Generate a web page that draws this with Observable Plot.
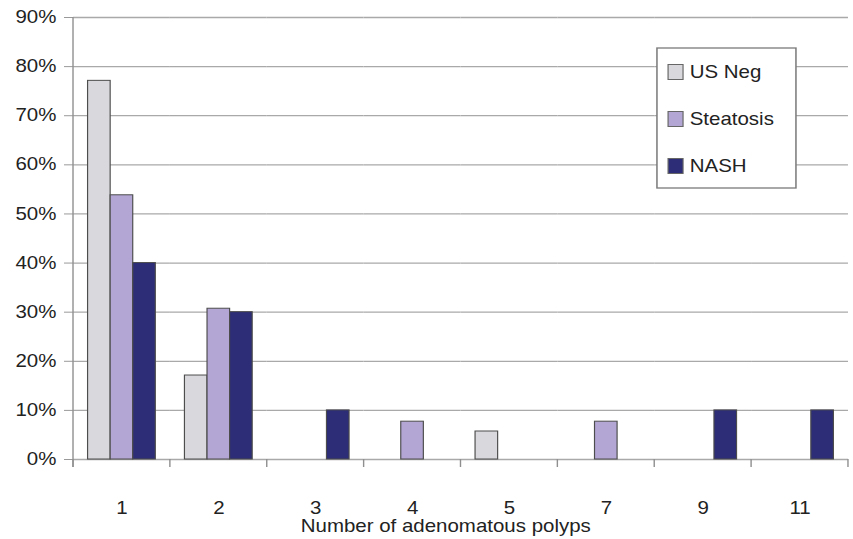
<!DOCTYPE html>
<html>
<head>
<meta charset="utf-8">
<script src="https://cdn.jsdelivr.net/npm/d3@7"></script>
<script src="https://cdn.jsdelivr.net/npm/@observablehq/plot@0.6"></script>
<style>
  body { margin: 0; background: #fff; }
  #chart svg { display: block; }
</style>
</head>
<body>
<div id="chart"></div>
<script>
// ---- data ----
const categories = ["1", "2", "3", "4", "5", "7", "9", "11"];
const series = ["US Neg", "Steatosis", "NASH"];
const usNeg     = [0.771, 0.171, 0,    0,     0.057, 0,     0,    0];
const steatosis = [0.538, 0.307, 0,    0.077, 0,     0.077, 0,    0];
const nash      = [0.40,  0.30,  0.10, 0,     0,     0,     0.10, 0.10];
const colors = ["#d9d9dd", "#b3a6d4", "#2c2c77"];
const yTicks = [0, 0.1, 0.2, 0.3, 0.4, 0.5, 0.6, 0.7, 0.8, 0.9];
const xTitle = "Number of adenomatous polyps";

const rows = [];
[usNeg, steatosis, nash].forEach((vals, si) =>
  vals.forEach((v, ci) => {
    if (v > 0) rows.push({category: categories[ci], series: series[si], value: v});
  })
);

// the reference is drawn horizontally stretched; reproduce by scaling the viewBox
const SX = 1.17;
const W = 853 / SX, H = 539;
const FONT = '"Liberation Sans", Arial, sans-serif';

const chart = Plot.plot({
  width: W,
  height: H,
  marginTop: 17,
  marginBottom: 80,
  marginLeft: 62.4,
  marginRight: 4.3,
  style: {fontFamily: FONT, fontSize: "17.5px", color: "#222", background: "#fff", overflow: "visible"},
  fx: {domain: categories, padding: 0, round: false, label: null, tickSize: 0, tickPadding: 42, axis: "bottom"},
  x: {domain: series, paddingInner: 0, paddingOuter: 0.645, round: false, axis: null},
  y: {domain: [0, 0.9], ticks: yTicks, tickFormat: d3.format(".0%"), tickSize: 7.7, tickPadding: 7, label: null},
  color: {domain: series, range: colors},
  marks: [
    Plot.ruleY(yTicks, {stroke: "#a9a9a9", strokeWidth: 1.3}),
    Plot.barY(rows, {fx: "category", x: "series", y: "value", fill: "series", stroke: "#4d4d4d", strokeWidth: 1})
  ]
});

const svg = d3.select(chart);
svg.selectAll('[aria-label="y-axis tick"] path, [aria-label="y-axis tick"]').attr("stroke", "#999");

// category boundary ticks and y-axis line
const fx = chart.scale("fx"), y = chart.scale("y");
const y0 = y.apply(0), yTop = y.apply(0.9);
const bounds = categories.map(c => fx.apply(c));
bounds.push(fx.apply(categories[categories.length - 1]) + fx.bandwidth);
const g = svg.append("g").attr("stroke", "#8f8f8f").attr("stroke-width", 1.2);
bounds.forEach(bx => g.append("line").attr("x1", bx).attr("x2", bx).attr("y1", y0).attr("y2", y0 + 8));
g.append("line").attr("x1", bounds[0]).attr("x2", bounds[0]).attr("y1", yTop).attr("y2", y0 + 8);

// legend
const lg = svg.append("g").attr("font-family", FONT).attr("font-size", 17.5)
  .attr("fill", "#222").attr("text-anchor", "start");
lg.append("rect").attr("x", 561.5).attr("y", 48).attr("width", 118.8).attr("height", 140)
  .attr("fill", "#fff").attr("stroke", "#7a7a7a").attr("stroke-width", 1.3);
series.forEach((s, i) => {
  const cy = 72 + i * 47;
  lg.append("rect").attr("x", 571).attr("y", cy - 7.5).attr("width", 12.8).attr("height", 15)
    .attr("fill", colors[i]).attr("stroke", "#666").attr("stroke-width", 1);
  lg.append("text").attr("x", 589.5).attr("y", cy).attr("dy", "0.35em").text(s);
});

// x axis title
svg.append("text").attr("x", 381).attr("y", 532).attr("text-anchor", "middle")
  .attr("font-family", FONT).attr("font-size", 17.5).attr("fill", "#222")
  .text(xTitle);

// stretch horizontally
chart.setAttribute("preserveAspectRatio", "none");
chart.setAttribute("width", 853);
chart.setAttribute("height", 539);
chart.style.width = "853px";
chart.style.height = "539px";
chart.style.maxWidth = "none";

document.getElementById("chart").appendChild(chart);
</script>
</body>
</html>
